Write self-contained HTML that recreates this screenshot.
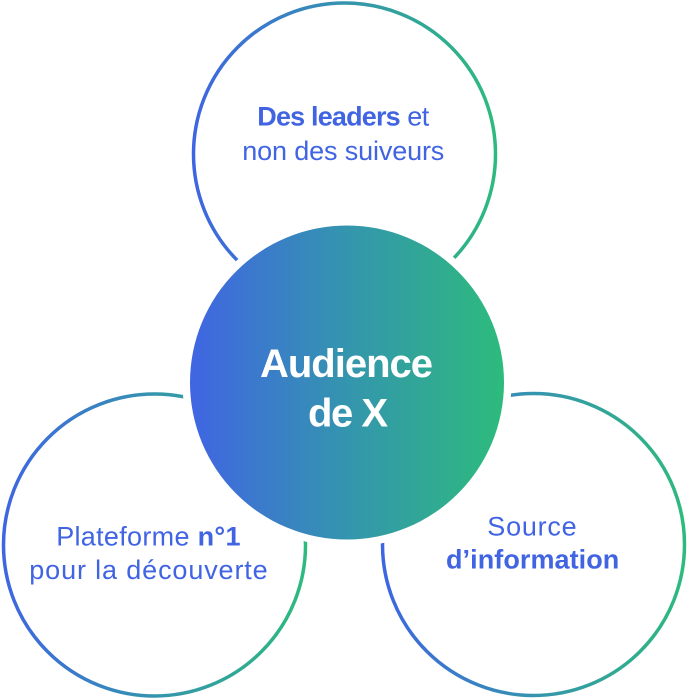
<!DOCTYPE html>
<html>
<head>
<meta charset="utf-8">
<style>
  html, body { margin: 0; padding: 0; background: #ffffff; }
  svg { display: block; }
  text { font-family: "Liberation Sans", Arial, sans-serif; }
</style>
</head>
<body>
<svg width="688" height="700" viewBox="0 0 688 700" xmlns="http://www.w3.org/2000/svg">
  <defs>
    <linearGradient id="ring" x1="0" y1="0" x2="1" y2="0">
      <stop offset="0" stop-color="#3E65E2"/>
      <stop offset="0.5" stop-color="#3594AE"/>
      <stop offset="1" stop-color="#2DBA7E"/>
    </linearGradient>
    <linearGradient id="core" x1="0" y1="0" x2="1" y2="0">
      <stop offset="0" stop-color="#4065E3"/>
      <stop offset="0.5" stop-color="#3495AE"/>
      <stop offset="1" stop-color="#2DBB7C"/>
    </linearGradient>
  </defs>

  <!-- outer rings -->
  <circle cx="344.5" cy="154" r="151" fill="none" stroke="url(#ring)" stroke-width="3.5"/>
  <circle cx="154.5" cy="545" r="151" fill="none" stroke="url(#ring)" stroke-width="3.5"/>
  <circle cx="533.5" cy="544.5" r="151" fill="none" stroke="url(#ring)" stroke-width="3.5"/>

  <!-- white gap around center -->
  <circle cx="347" cy="382.5" r="164.5" fill="#ffffff"/>
  <!-- center -->
  <circle cx="347" cy="382.5" r="157" fill="url(#core)"/>

  <!-- center text -->
  <text x="260" y="377" font-size="40" font-weight="bold" fill="#ffffff" textLength="173">Audience</text>
  <text x="308" y="426.5" font-size="40" font-weight="bold" fill="#ffffff" textLength="80">de X</text>

  <!-- top text -->
  <text x="257.3" y="125.7" font-size="27" font-weight="bold" fill="#4064E2" textLength="143.4">Des leaders</text>
  <text x="407.3" y="125.7" font-size="27" fill="#4064E2" textLength="22">et</text>
  <text x="242.3" y="160" font-size="27" fill="#4064E2" textLength="202">non des suiveurs</text>

  <!-- bottom-left text -->
  <text x="148.5" y="545.7" font-size="27" fill="#4064E2" text-anchor="middle" letter-spacing="0.3">Plateforme <tspan font-weight="bold">n°1</tspan></text>
  <text x="29.3" y="579" font-size="27" fill="#4064E2" textLength="238.4">pour la découverte</text>

  <!-- bottom-right text -->
  <text x="487.3" y="535.7" font-size="27" fill="#4064E2" textLength="89.4">Source</text>
  <text x="446" y="568.3" font-size="27" font-weight="bold" fill="#4064E2" textLength="173.3">d’information</text>
</svg>
</body>
</html>
